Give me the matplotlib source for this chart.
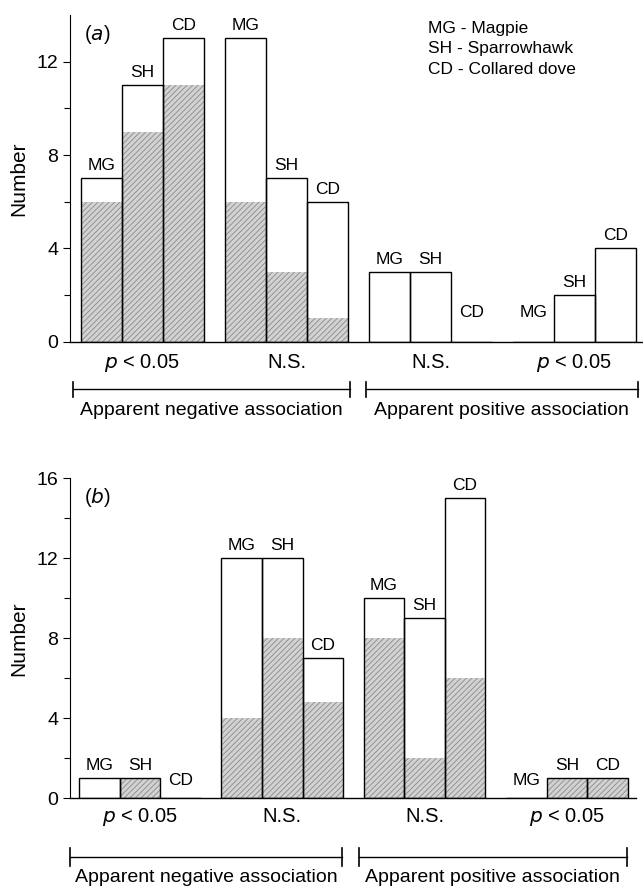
import numpy as np
import matplotlib
matplotlib.use("Agg")
import matplotlib.pyplot as plt

plt.rcParams['font.family'] = ['Liberation Sans', 'DejaVu Sans']
plt.rcParams['hatch.linewidth'] = 0.6

species = ["MG", "SH", "CD"]
legend_lines = ["MG - Magpie", "SH - Sparrowhawk", "CD - Collared dove"]
group_labels = ["$\\it{p}$ < 0.05", "N.S.", "N.S.", "$\\it{p}$ < 0.05"]
side_labels = ["Apparent negative association", "Apparent positive association"]

# rows = groups, columns = MG, SH, CD
total_a = np.array([[7, 11, 13],
                    [13, 7, 6],
                    [3, 3, 0],
                    [0, 2, 4]])
shaded_a = np.array([[6, 9, 11],
                     [6, 3, 1],
                     [0, 0, 0],
                     [0, 0, 0]])

total_b = np.array([[1, 1, 0],
                    [12, 12, 7],
                    [10, 9, 15],
                    [0, 1, 1]])
shaded_b = np.array([[0, 1, 0],
                     [4, 8, 4.8],
                     [8, 2, 6],
                     [0, 1, 1]])

W, H = 643, 888
fig = plt.figure(figsize=(W / 100, H / 100), dpi=100)


def px_axes(x0, x1, y_top, y_zero):
    return fig.add_axes([x0 / W, 1 - y_zero / H, (x1 - x0) / W, (y_zero - y_top) / H])


def panel(ax, total, shaded, ymax, xlim, tag, zero_off, lab_y, br):
    bw = 0.285
    groups = np.arange(total.shape[0])
    for j, sp in enumerate(species):
        x = groups + (j - 1) * bw
        ax.bar(x, shaded[:, j], width=bw, facecolor="#d2d2d2", edgecolor="#8a8a8a",
               hatch="//////", linewidth=0, zorder=2)
        ax.bar(x, total[:, j], width=bw, facecolor="none", edgecolor="black",
               linewidth=1.0, zorder=3)
        for xi, v in zip(x, total[:, j]):
            off = 9 if v > 0 else zero_off
            ax.annotate(sp, (xi, v), xytext=(0, off), textcoords="offset points",
                        ha="center", va="center", fontsize=12.5)

    ax.set_xlim(*xlim)
    ax.set_ylim(0, ymax)
    ax.set_yticks(np.arange(0, ymax + 1, 4))
    ax.set_yticks(np.arange(2, ymax, 4), minor=True)
    ax.tick_params(axis="y", labelsize=14, length=5, width=0.8, direction="out")
    ax.tick_params(axis="y", which="minor", length=4, width=0.8)
    ax.set_xticks([])
    ax.spines["top"].set_visible(False)
    ax.spines["right"].set_visible(False)
    ax.spines["left"].set_linewidth(0.8)
    ax.spines["bottom"].set_linewidth(1.0)
    ax.set_ylabel("Number", fontsize=15, labelpad=6)
    ax.text(0.025, 0.975, tag, transform=ax.transAxes, fontsize=14.5, va="top")

    tr = ax.get_xaxis_transform()
    for g, lab in zip(groups, group_labels):
        ax.text(g, lab_y, lab, transform=tr, ha="center", va="center", fontsize=14.5)

    y_br, tick_h, y_txt = br["y"], br["tick"], br["text"]
    for (x0, x1), lab in zip(br["spans"], side_labels):
        ax.plot([x0, x1], [y_br, y_br], color="black", lw=1.0, transform=tr, clip_on=False)
        for xe in (x0, x1):
            ax.plot([xe, xe], [y_br - tick_h, y_br + tick_h], color="black", lw=1.2,
                    transform=tr, clip_on=False)
        ax.text((x0 + x1) / 2, y_txt, lab, transform=tr, ha="center", va="center",
                fontsize=14)


ax_a = px_axes(70, 642, 15, 341.7)
panel(ax_a, total_a, shaded_a, 14, (-0.503, 3.469), "($\\it{a}$)", 21,
      -0.065, {"y": -0.145, "tick": 0.023, "text": -0.212,
               "spans": [(-0.48, 1.44), (1.55, 3.44)]})
ax_a.text(0.626, 0.983, "\n".join(legend_lines), transform=ax_a.transAxes,
          fontsize=12.5, va="top", ha="left", linespacing=1.48)

ax_b = px_axes(70, 636, 478.3, 798.3)
panel(ax_b, total_b, shaded_b, 16, (-0.492, 3.486), "($\\it{b}$)", 13,
      -0.058, {"y": -0.183, "tick": 0.028, "text": -0.246,
               "spans": [(-0.49, 1.42), (1.54, 3.42)]})

fig.savefig("out.png", dpi=100)
